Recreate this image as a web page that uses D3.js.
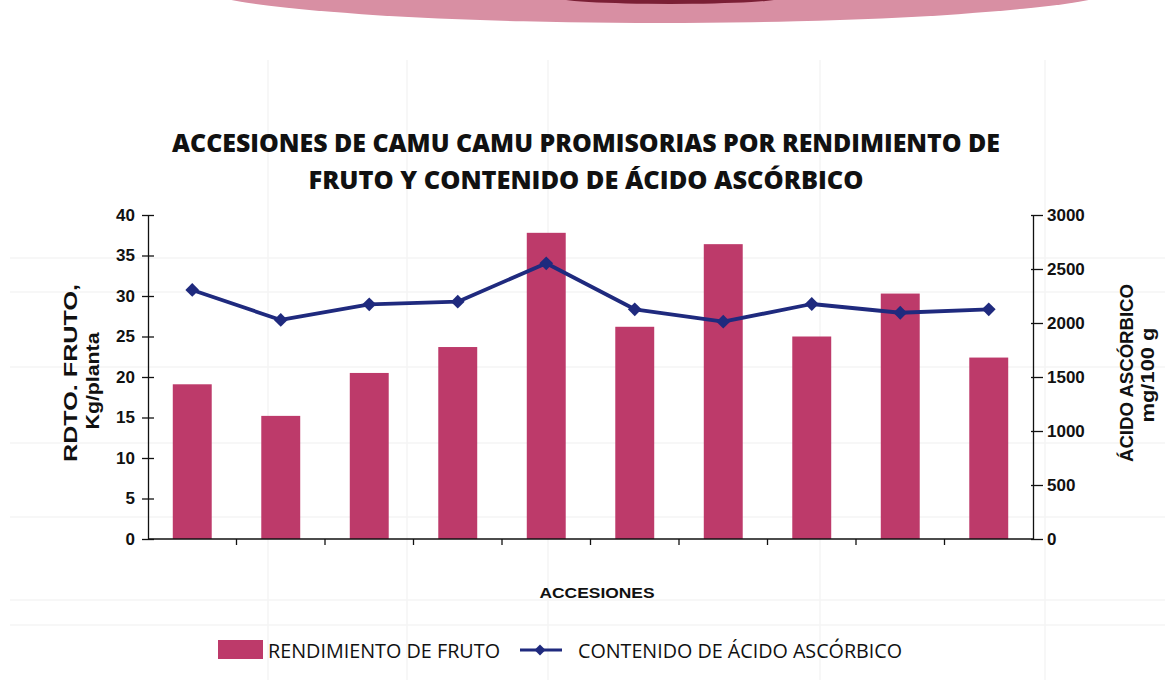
<!DOCTYPE html>
<html>
<head>
<meta charset="utf-8">
<script src="https://cdn.jsdelivr.net/npm/d3@7"></script>
<style>
  html, body { margin: 0; padding: 0; background: #fff; }
  svg { display: block; }
</style>
</head>
<body>
<svg id="chart" width="1173" height="689"></svg>
<script>
// ---- data ----
const categories = ["1", "2", "3", "4", "5", "6", "7", "8", "9", "10"];
const rendimiento = [19.1, 15.2, 20.5, 23.7, 37.8, 26.2, 36.4, 25.0, 30.3, 22.4];
const acidoAscorbico = [2306, 2028, 2173, 2197, 2553, 2127, 2012, 2176, 2095, 2127];
const leftTicks = [0, 5, 10, 15, 20, 25, 30, 35, 40];
const rightTicks = [0, 500, 1000, 1500, 2000, 2500, 3000];
const titleLines = ["ACCESIONES DE CAMU CAMU PROMISORIAS POR RENDIMIENTO DE", "FRUTO Y CONTENIDO DE ÁCIDO ASCÓRBICO"];
const legendLabels = ["RENDIMIENTO DE FRUTO", "CONTENIDO DE ÁCIDO ASCÓRBICO"];

// ---- layout ----
const svg = d3.select("#chart");
const plot = { left: 148, right: 1033, top: 215, bottom: 539 };
const barColor = "#bd3a6a";
const lineColor = "#1f2a7e";

// decorative pink arc at the top
svg.append("ellipse").attr("cx", 660).attr("cy", -16).attr("rx", 470).attr("ry", 39).attr("fill", "#d88fa3");
svg.append("ellipse").attr("cx", 670).attr("cy", -3).attr("rx", 115).attr("ry", 7).attr("fill", "#7a1f35");

// faint background grid (paper texture)
const faint = svg.append("g").attr("stroke", "#f5f5f5").attr("stroke-width", 1.5);
[258, 292, 367, 443, 517, 600, 625].forEach(y => faint.append("line").attr("x1", 10).attr("x2", 1165).attr("y1", y).attr("y2", y));
[268, 407, 548, 820, 1045].forEach(x => faint.append("line").attr("x1", x).attr("x2", x).attr("y1", 60).attr("y2", 680));

const x = d3.scaleBand().domain(categories).range([plot.left, plot.right]).paddingInner(0.56).paddingOuter(0.28);
const xOuter = d3.scaleBand().domain(categories).range([plot.left, plot.right]);
const yL = d3.scaleLinear().domain([0, 40]).range([plot.bottom, plot.top]);
const yR = d3.scaleLinear().domain([0, 3000]).range([plot.bottom, plot.top]);

// bars
svg.append("g").selectAll("rect").data(categories).join("rect")
  .attr("x", d => x(d))
  .attr("width", x.bandwidth())
  .attr("y", (d, i) => yL(rendimiento[i]))
  .attr("height", (d, i) => yL(0) - yL(rendimiento[i]))
  .attr("fill", barColor);

// axes
const tickFont = "Liberation Sans, Arial, sans-serif";
const gL = svg.append("g").attr("transform", `translate(${plot.left},0)`)
  .call(d3.axisLeft(yL).tickValues(leftTicks).tickSize(6).tickSizeOuter(0).tickPadding(7));
gL.selectAll(".tick line").attr("x2", 6).attr("x1", -6);

const gR = svg.append("g").attr("transform", `translate(${plot.right},0)`)
  .call(d3.axisRight(yR).tickValues(rightTicks).tickFormat(d3.format("d")).tickSize(10).tickSizeOuter(0).tickPadding(4));
gR.selectAll(".tick line").attr("x1", -2).attr("x2", 10);

const gX = svg.append("g").attr("transform", `translate(0,${plot.bottom})`)
  .call(d3.axisBottom(x).tickValues([]).tickSizeOuter(0));
gX.select(".domain").attr("d", `M${plot.left},0H${plot.right}`);
gX.selectAll(".bt").data(categories.slice(1)).join("line")
  .attr("x1", d => xOuter(d)).attr("x2", d => xOuter(d))
  .attr("y1", 0).attr("y2", 6).attr("stroke", "#111");

[gL, gR, gX].forEach(g => {
  g.selectAll(".domain").attr("stroke", "#111").attr("stroke-width", 1.3);
  g.selectAll("line").attr("stroke", "#111").attr("stroke-width", 1.3);
  g.selectAll("text").attr("font-family", tickFont).attr("font-weight", "bold").attr("font-size", 17).attr("fill", "#111");
});

// line
const cx = i => xOuter(categories[i]) + xOuter.bandwidth() / 2;
const line = d3.line().x((d, i) => cx(i)).y(d => yR(d));
svg.append("path").datum(acidoAscorbico).attr("d", line)
  .attr("fill", "none").attr("stroke", lineColor).attr("stroke-width", 3.8).attr("stroke-linejoin", "round");
svg.append("g").selectAll("path").data(acidoAscorbico).join("path")
  .attr("d", d3.symbol(d3.symbolSquare, 95))
  .attr("transform", (d, i) => `translate(${cx(i)},${yR(d)}) rotate(45)`)
  .attr("fill", lineColor);

// title
const titleFont = "Open Sans, Lato, sans-serif";
svg.append("text").attr("x", 586).attr("y", 152).attr("text-anchor", "middle")
  .attr("font-family", titleFont).attr("font-weight", 800).attr("font-size", 25).attr("fill", "#111")
  .attr("textLength", 828).attr("lengthAdjust", "spacingAndGlyphs").text(titleLines[0]);
svg.append("text").attr("x", 586).attr("y", 189).attr("text-anchor", "middle")
  .attr("font-family", titleFont).attr("font-weight", 800).attr("font-size", 25).attr("fill", "#111")
  .attr("textLength", 555).attr("lengthAdjust", "spacingAndGlyphs").text(titleLines[1]);

// axis titles
const axTitle = (xPos, yPos, txt, len) => svg.append("text")
  .attr("transform", `translate(${xPos},${yPos}) rotate(-90)`).attr("text-anchor", "middle")
  .attr("font-family", tickFont).attr("font-weight", "bold").attr("font-size", 19).attr("fill", "#111")
  .attr("textLength", len).attr("lengthAdjust", "spacingAndGlyphs").text(txt);
axTitle(77, 373, "RDTO. FRUTO,", 178);
axTitle(99, 381, "Kg/planta", 97);
axTitle(1133, 373, "ÁCIDO ASCÓRBICO", 178);
axTitle(1154, 375, "mg/100 g", 95);

svg.append("text").attr("x", 597).attr("y", 598).attr("text-anchor", "middle")
  .attr("font-family", tickFont).attr("font-weight", "bold").attr("font-size", 15).attr("fill", "#111")
  .attr("textLength", 115).attr("lengthAdjust", "spacingAndGlyphs").text("ACCESIONES");

// legend
const legFont = "Open Sans, sans-serif";
svg.append("rect").attr("x", 218).attr("y", 640).attr("width", 45).attr("height", 19).attr("fill", barColor);
svg.append("text").attr("x", 268).attr("y", 658).attr("font-family", legFont).attr("font-size", 20).attr("fill", "#111")
  .attr("textLength", 232).attr("lengthAdjust", "spacingAndGlyphs").text(legendLabels[0]);
svg.append("line").attr("x1", 520).attr("x2", 562).attr("y1", 650).attr("y2", 650).attr("stroke", lineColor).attr("stroke-width", 3);
svg.append("path").attr("d", d3.symbol(d3.symbolSquare, 60)).attr("transform", "translate(540,650) rotate(45)").attr("fill", lineColor);
svg.append("text").attr("x", 578).attr("y", 658).attr("font-family", legFont).attr("font-size", 20).attr("fill", "#111")
  .attr("textLength", 324).attr("lengthAdjust", "spacingAndGlyphs").text(legendLabels[1]);
</script>
</body>
</html>
